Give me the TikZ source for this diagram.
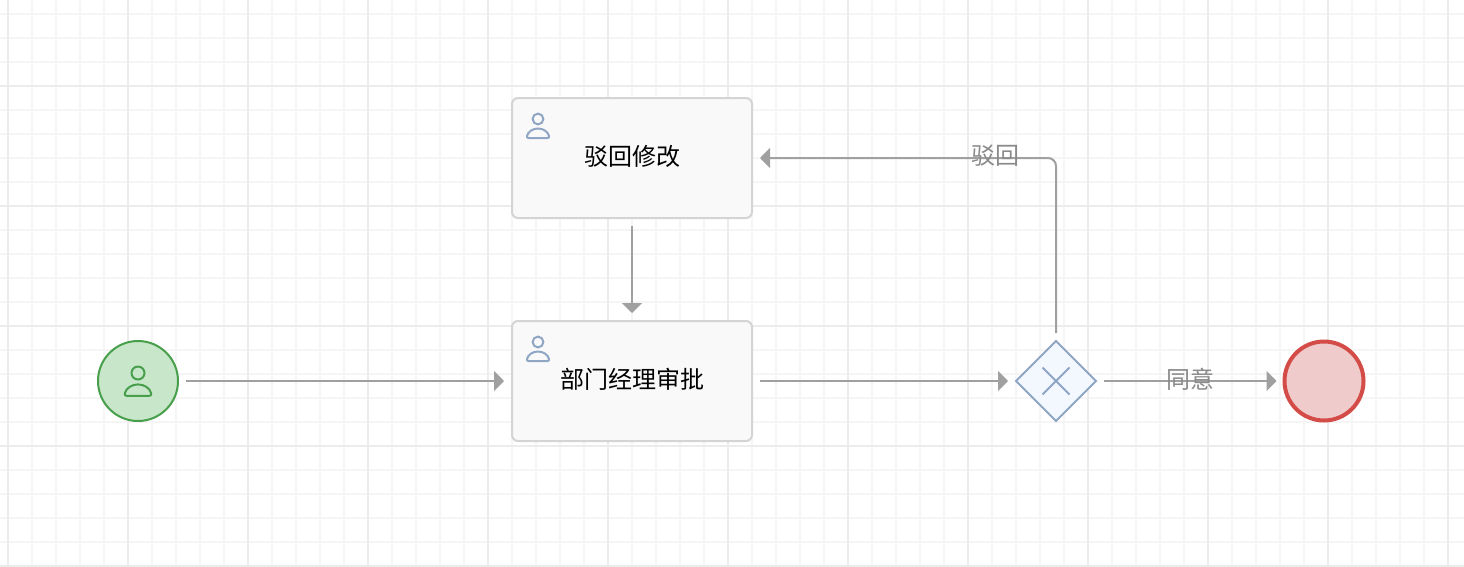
\documentclass[tikz,border=0pt]{standalone}
\usepackage{fontspec}
\setmainfont{Noto Sans CJK SC}
\usetikzlibrary{arrows.meta,shapes.geometric}
\definecolor{gridminor}{HTML}{F5F5F5}
\definecolor{gridmajor}{HTML}{ECECEC}
\definecolor{flowgrey}{HTML}{A0A0A0}
\definecolor{labelgrey}{HTML}{8A8A8A}
\definecolor{bluestroke}{HTML}{8FA6C4}
\tikzset{
  x=1pt,y=-1pt,
  minorline/.style={gridminor,line width=2pt},
  majorline/.style={gridmajor,line width=2pt},
  taskbox/.style={draw=black!17,fill=black!2.5,line width=2pt,rounded corners=6pt,
    minimum width=240pt,minimum height=120pt,inner sep=0pt,outer sep=0pt,
    text height=22pt,text depth=8pt,
    font=\fontsize{24}{28}\selectfont,text=black},
  flow/.style={flowgrey,line width=2pt,shorten <=8pt,shorten >=8pt,
    -{Triangle[length=10pt,width=20pt]}},
  flowlabel/.style={text=labelgrey,font=\fontsize{24}{28}\selectfont,inner sep=0pt},
  usericon/.pic={
    \draw[line width=2pt,pic actions] (0,0) circle[radius=5.4];
    \draw[line width=2pt,pic actions,line join=round] (-9.5,19) -- (9.5,19)
      .. controls (11,19) and (11.3,18) .. (11,17)
      .. controls (10,12.5) and (5,9.5) .. (0,9.5)
      .. controls (-5,9.5) and (-10,12.5) .. (-11,17)
      .. controls (-11.3,18) and (-11,19) .. (-9.5,19) -- cycle;
  }
}
\begin{document}
\begin{tikzpicture}
\definecolor{startstroke}{HTML}{479F4C}
\definecolor{startfill}{HTML}{C8E6C9}
\definecolor{endstroke}{HTML}{D44C47}
\definecolor{endfill}{HTML}{EFCBCB}
\definecolor{gwfill}{HTML}{F3F7FE}
\useasboundingbox (0,0) rectangle (1464,566);
\fill[white] (0,0) rectangle (1464,566);
\begin{scope}
\clip (0,0) rectangle (1464,566);
\foreach \i in {8,32,...,1464} \draw[minorline] (\i,0) -- (\i,566);
\foreach \j in {14,38,...,566} \draw[minorline] (0,\j) -- (1464,\j);
\foreach \i in {8,128,...,1448} \draw[majorline] (\i,0) -- (\i,566);
\foreach \j in {86,206,...,566} \draw[majorline] (0,\j) -- (1464,\j);
\end{scope}
\node[circle,draw=startstroke,fill=startfill,line width=2pt,minimum size=80pt,inner sep=0pt,outer sep=0pt] (start) at (138,381) {};
\pic[draw=startstroke,scale=1.2] at (138,373) {usericon};
\node[taskbox] (reject) at (632,158) {驳回修改};
\pic[draw=bluestroke] at (538,119) {usericon};
\node[taskbox] (approve) at (632,381) {部门经理审批};
\pic[draw=bluestroke] at (538,342) {usericon};
\node[diamond,draw=bluestroke,fill=gwfill,line width=2pt,minimum width=80pt,minimum height=80pt,inner sep=0pt,outer sep=0pt] (gw) at (1056,381) {};
\draw[bluestroke,line width=2pt] (gw.center) ++(-13.5,-13.5) -- ++(27,27);
\draw[bluestroke,line width=2pt] (gw.center) ++(13.5,-13.5) -- ++(-27,27);
\node[circle,draw=endstroke,fill=endfill,line width=4pt,minimum size=79pt,inner sep=0pt,outer sep=0pt] (end) at (1324,381) {};
\draw[flow] (start) -- (approve);
\draw[flow] (reject) -- (approve);
\draw[flow] (approve) -- (gw);
\draw[flow] (gw) -- (end);
\draw[flow,rounded corners=8pt] (gw.north) |- (reject.east);
\node[flowlabel] (lblreject) at (995,156) {驳回};
\node[flowlabel] (lblagree) at (1190,379) {同意};
\end{tikzpicture}
\end{document}
